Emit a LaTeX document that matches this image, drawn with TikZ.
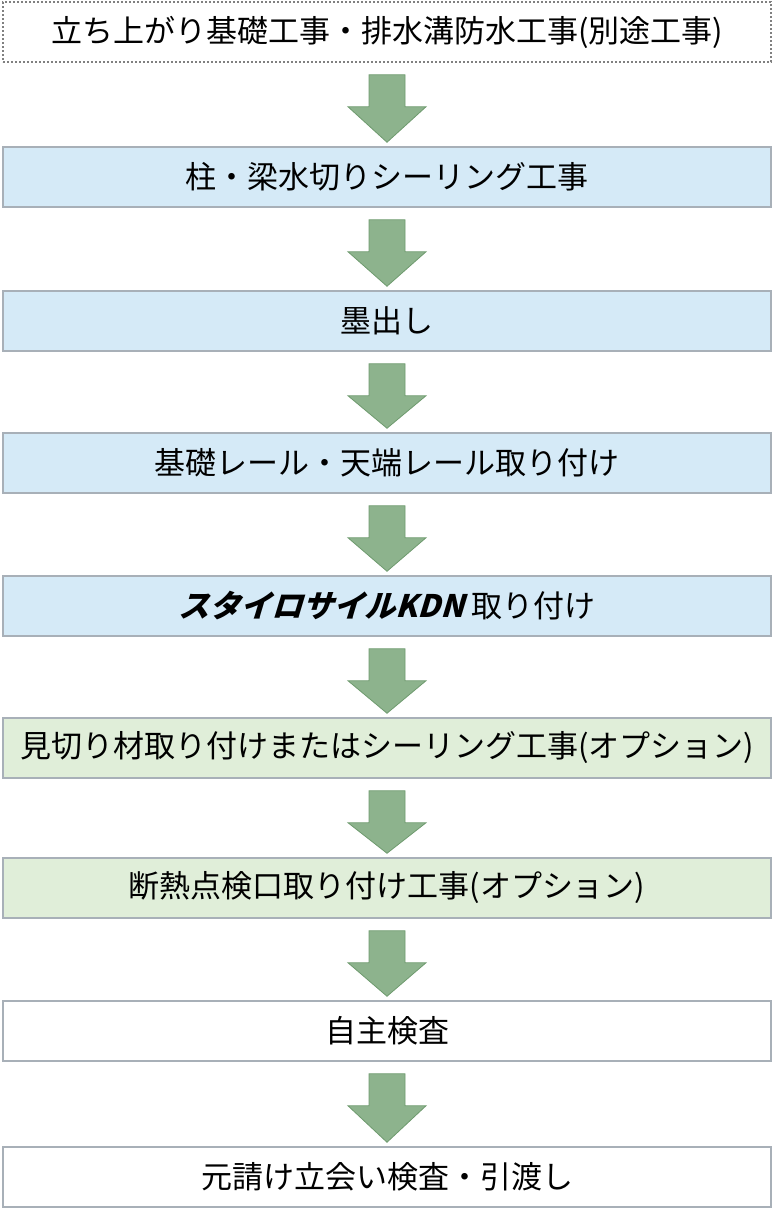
\documentclass[tikz,border=0pt]{standalone}
\usepackage{fontspec}
\usetikzlibrary{calc}
\setmainfont{Noto Sans CJK JP}
\newfontfamily\logofont{Noto Sans CJK JP}[FakeSlant=0.3,UprightFont=* Black,BoldFont=* Black]
\definecolor{bluef}{HTML}{D5EAF7}
\definecolor{greenf}{HTML}{E0EED9}
\definecolor{arrf}{HTML}{8DB38D}
\definecolor{arrd}{HTML}{6E9A6E}
\definecolor{bord}{HTML}{A8B0B8}
\begin{document}
\begin{tikzpicture}[x=1pt,y=-1pt,
  box/.style={draw=bord,line width=1.5pt,minimum width=768pt,minimum height=60pt,inner sep=0pt,font=\fontsize{31}{34}\selectfont},
  bl/.style={box,fill=bluef},
  gr/.style={box,fill=greenf},
  wh/.style={box,fill=white},
  ar/.style={fill=arrf,draw=arrd,line width=0.8pt}]
\useasboundingbox (0,0) rectangle (774,1216);
\node[wh,draw=gray,dash pattern=on 2pt off 2pt] (b1) at (387,32) {立ち上がり基礎工事・排水溝防水工事(別途工事)};
\node[bl] (b2) at (387,177) {柱・梁水切りシーリング工事};
\node[bl] (b3) at (387,321) {墨出し};
\node[bl] (b4) at (387,463) {基礎レール・天端レール取り付け};
\node[bl] (b5) at (387,606) {{\logofont\bfseries\fontsize{31}{31}\selectfont スタイロサイルKDN}\ 取り付け};
\node[gr] (b6) at (387,748) {見切り材取り付けまたはシーリング工事(オプション)};
\node[gr] (b7) at (387,888) {断熱点検口取り付け工事(オプション)};
\node[wh] (b8) at (387,1031) {自主検査};
\node[wh] (b9) at (387,1177) {元請け立会い検査・引渡し};
\foreach \a/\b in {b1/b2,b2/b3,b3/b4,b4/b5,b5/b6,b6/b7,b7/b8,b8/b9}{
  \path (\a.south) coordinate (s) (\b.north) coordinate (e);
  \draw[ar] ($(s)+(-18,12)$) -- ($(s)+(18,12)$) -- ($(s)+(18,44)$) -- ($(s)+(39,44)$) -- ($(e)+(0,-4)$) -- ($(s)+(-39,44)$) -- ($(s)+(-18,44)$) -- cycle;
}
\end{tikzpicture}
\end{document}
